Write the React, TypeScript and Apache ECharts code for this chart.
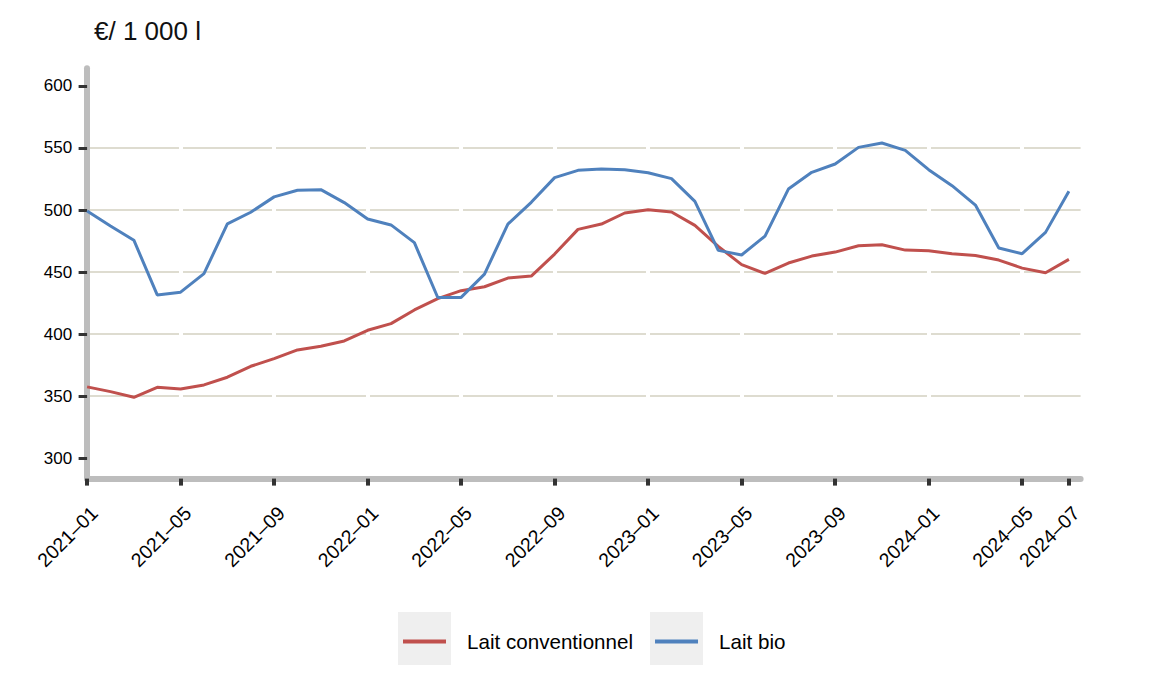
import React, { useEffect, useRef } from "react";
import * as echarts from "echarts";

const months: string[] = [
  "2021–01","2021–02","2021–03","2021–04","2021–05","2021–06","2021–07","2021–08","2021–09","2021–10","2021–11","2021–12",
  "2022–01","2022–02","2022–03","2022–04","2022–05","2022–06","2022–07","2022–08","2022–09","2022–10","2022–11","2022–12",
  "2023–01","2023–02","2023–03","2023–04","2023–05","2023–06","2023–07","2023–08","2023–09","2023–10","2023–11","2023–12",
  "2024–01","2024–02","2024–03","2024–04","2024–05","2024–06","2024–07",
];

const laitConventionnel: number[] = [
  357.5, 353.7, 349.1, 357.2, 355.8, 359.1, 365.3, 374.1, 380.3, 387.3, 390.2, 394.5,
  403.1, 408.5, 419.5, 428.6, 435.0, 438.2, 445.2, 446.8, 464.5, 484.4, 488.7, 497.6,
  500.3, 498.4, 487.6, 470.7, 456.0, 448.9, 457.3, 462.9, 466.1, 471.2, 472.0, 467.7,
  467.2, 464.8, 463.4, 459.7, 453.2, 449.5, 460.2,
];

const laitBio: number[] = [
  499.3, 487.2, 475.7, 431.6, 433.8, 448.8, 488.8, 498.2, 510.6, 515.9, 516.4, 506.0,
  492.8, 488.0, 473.7, 429.5, 429.6, 448.4, 488.7, 506.2, 526.1, 532.0, 533.1, 532.5,
  530.1, 525.3, 507.0, 467.5, 463.8, 479.0, 516.9, 530.4, 537.1, 550.5, 554.0, 548.1,
  532.5, 519.6, 504.0, 469.4, 464.8, 482.0, 515.1,
];

const xTickIndices: number[] = [0, 4, 8, 12, 16, 20, 24, 28, 32, 36, 40, 42];
const yTicks: number[] = [300, 350, 400, 450, 500, 550, 600];

const seriesNames = ["Lait conventionnel", "Lait bio"];
const colors = ["#C0504D", "#4F81BD"];
const unitLabel = "€/ 1 000 l";

const FONT = "'Liberation Sans', Arial, Helvetica, sans-serif";

export default function App() {
  const ref = useRef<HTMLDivElement>(null);

  useEffect(() => {
    if (!ref.current) return;
    const chart = echarts.init(ref.current, undefined, { renderer: "svg" });
    const toPairs = (arr: number[]) => arr.map((v, i) => [i, v]);

    chart.setOption({
      animation: false,
      backgroundColor: "#ffffff",
      textStyle: { fontFamily: FONT },
      title: {
        text: unitLabel,
        left: 94,
        top: 18,
        padding: 0,
        textStyle: { fontFamily: FONT, fontSize: 26, fontWeight: "normal", color: "#111" },
      },
      grid: {
        left: 87.1,
        right: 69.4,
        top: 68.3,
        bottom: 211.4,
        containLabel: false,
        outerBoundsMode: "none",
      },
      legend: {
        left: 403,
        top: 631,
        padding: 0,
        itemWidth: 43,
        itemHeight: 4,
        itemGap: 22,
        icon: "rect",
        textStyle: { fontFamily: FONT, fontSize: 20.6, color: "#000", padding: [0, 0, 0, 16] },
        data: seriesNames,
      },
      graphic: [
        { type: "rect", z: -1, shape: { x: 398, y: 612, width: 53, height: 53 }, style: { fill: "#efefef" } },
        { type: "rect", z: -1, shape: { x: 650, y: 612, width: 53, height: 53 }, style: { fill: "#efefef" } },
      ],
      xAxis: [
        {
          type: "value",
          min: 0,
          max: 42.5,
          position: "bottom",
          z: 2,
          axisLine: { show: true, onZero: false, lineStyle: { color: "#bdbdbd", width: 6 } },
          axisTick: {
            show: true,
            customValues: xTickIndices,
            length: 7,
            lineStyle: { color: "#333", width: 4 },
          },
          axisLabel: {
            show: true,
            customValues: xTickIndices,
            rotate: 45,
            margin: 24,
            fontSize: 19.5,
            verticalAlign: "top",
            color: "#000",
            fontFamily: FONT,
            formatter: (v: number) => months[Math.round(v)] ?? "",
          },
          splitLine: { show: false },
        },
        {
          type: "value",
          min: 0,
          max: 42.5,
          position: "top",
          z: 1,
          axisLine: { show: false },
          axisTick: { show: false, customValues: xTickIndices },
          axisLabel: { show: false, customValues: xTickIndices },
          splitLine: { show: true, showMinLine: false, showMaxLine: false, lineStyle: { color: "#ffffff", width: 4 } },
        },
      ],
      yAxis: {
        type: "value",
        min: 283.6,
        max: 614.2,
        z: 0,
        axisLine: { show: true, lineStyle: { color: "#bdbdbd", width: 6 } },
        axisTick: {
          show: true,
          customValues: yTicks,
          length: 8.5,
          lineStyle: { color: "#333", width: 3 },
        },
        axisLabel: {
          show: true,
          customValues: yTicks,
          margin: 15,
          fontSize: 17,
          color: "#000",
          fontFamily: FONT,
        },
        splitLine: { show: true, showMinLine: false, showMaxLine: false, lineStyle: { color: "#d3d0c0", width: 1.5 } },
      },
      series: [
        {
          name: seriesNames[0],
          type: "line",
          z: 3,
          xAxisIndex: 0,
          data: toPairs(laitConventionnel),
          showSymbol: false,
          symbol: "none",
          color: colors[0],
          lineStyle: { color: colors[0], width: 3 },
          itemStyle: { color: colors[0] },
        },
        {
          name: seriesNames[1],
          type: "line",
          z: 3,
          xAxisIndex: 0,
          data: toPairs(laitBio),
          showSymbol: false,
          symbol: "none",
          color: colors[1],
          lineStyle: { color: colors[1], width: 3 },
          itemStyle: { color: colors[1] },
        },
      ],
    });

    return () => chart.dispose();
  }, []);

  return (
    <div
      ref={ref}
      style={{ position: "fixed", left: 0, top: 0, width: 1150, height: 690, background: "#fff" }}
    />
  );
}
